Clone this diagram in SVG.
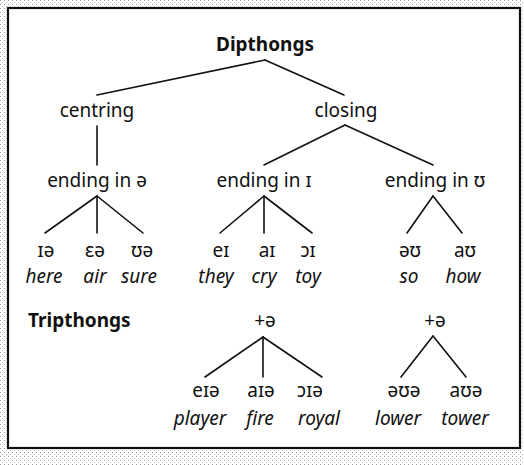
<svg xmlns="http://www.w3.org/2000/svg" width="524" height="465" viewBox="0 0 524 465">
<defs>
<pattern id="dots" width="4" height="4" patternUnits="userSpaceOnUse">
<rect width="4" height="4" fill="#ffffff"/>
<rect x="0" y="0" width="1" height="1" fill="#9a9a9a"/>
<rect x="2" y="2" width="1" height="1" fill="#c4c4c4"/>
</pattern>
<style>
text{font-family:"Noto Sans","Open Sans","DejaVu Sans",sans-serif;font-size:19px;fill:#111;text-anchor:middle}
.b{font-weight:bold}
.i{font-style:italic}
.l{text-anchor:start}
#connectors line{stroke:#111;stroke-width:1.6;stroke-linecap:round}
</style>
</defs>
<rect x="0" y="0" width="524" height="465" fill="url(#dots)"/>
<rect x="8" y="8" width="512" height="440" fill="#ffffff" stroke="#111" stroke-width="2.2"/>
<g id="connectors">
<line x1="265" y1="60" x2="97" y2="95"/>
<line x1="265" y1="60" x2="344" y2="95"/>
<line x1="97" y1="126" x2="97" y2="165"/>
<line x1="345" y1="125" x2="264" y2="165"/>
<line x1="345" y1="125" x2="433" y2="165"/>
<line x1="97" y1="196" x2="45" y2="233"/>
<line x1="97" y1="196" x2="97" y2="233"/>
<line x1="97" y1="196" x2="143" y2="233"/>
<line x1="264" y1="196" x2="220" y2="233"/>
<line x1="264" y1="196" x2="264" y2="233"/>
<line x1="264" y1="196" x2="312" y2="233"/>
<line x1="433" y1="196" x2="407" y2="233"/>
<line x1="433" y1="196" x2="462" y2="233"/>
<line x1="263" y1="337" x2="205" y2="377"/>
<line x1="263" y1="337" x2="263" y2="377"/>
<line x1="263" y1="337" x2="322" y2="377"/>
<line x1="433" y1="336" x2="401" y2="377"/>
<line x1="433" y1="336" x2="466" y2="377"/>
</g>
<g id="n-dipthongs"><text class="b" x="265" y="51">Dipthongs</text></g>
<g id="n-centring"><text x="97" y="117">centring</text></g>
<g id="n-closing"><text x="346" y="117">closing</text></g>
<g id="n-ending-schwa"><text x="97" y="187">ending in ə</text></g>
<g id="n-ending-i"><text x="264" y="187">ending in ɪ</text></g>
<g id="n-ending-u"><text x="435" y="187">ending in ʊ</text></g>
<g id="n-ia"><text x="46" y="257">ɪə</text><text class="i" x="44" y="283">here</text></g>
<g id="n-ea"><text x="95" y="257">ɛə</text><text class="i" x="95" y="283">air</text></g>
<g id="n-ua"><text x="142" y="257">ʊə</text><text class="i" x="139" y="283">sure</text></g>
<g id="n-ei"><text x="221" y="257">eɪ</text><text class="i" x="216" y="283">they</text></g>
<g id="n-ai"><text x="267" y="257">aɪ</text><text class="i" x="264" y="283">cry</text></g>
<g id="n-oi"><text x="308" y="257">ɔɪ</text><text class="i" x="308" y="283">toy</text></g>
<g id="n-ou"><text x="410" y="257">əʊ</text><text class="i" x="409" y="283">so</text></g>
<g id="n-au"><text x="465" y="257">aʊ</text><text class="i" x="463" y="283">how</text></g>
<g id="n-tripthongs"><text class="b l" x="28" y="327">Tripthongs</text></g>
<g id="n-plus1"><text x="265" y="327">+ə</text></g>
<g id="n-plus2"><text x="435" y="327">+ə</text></g>
<g id="n-eia"><text x="206" y="397">eɪə</text><text class="i" x="200" y="425">player</text></g>
<g id="n-aia"><text x="261" y="397">aɪə</text><text class="i" x="260" y="425">fire</text></g>
<g id="n-oia"><text x="310" y="397">ɔɪə</text><text class="i" x="319" y="425">royal</text></g>
<g id="n-oua"><text x="404" y="397">əʊə</text><text class="i" x="398" y="425">lower</text></g>
<g id="n-aua"><text x="466" y="397">aʊə</text><text class="i" x="465" y="425">tower</text></g>
</svg>
